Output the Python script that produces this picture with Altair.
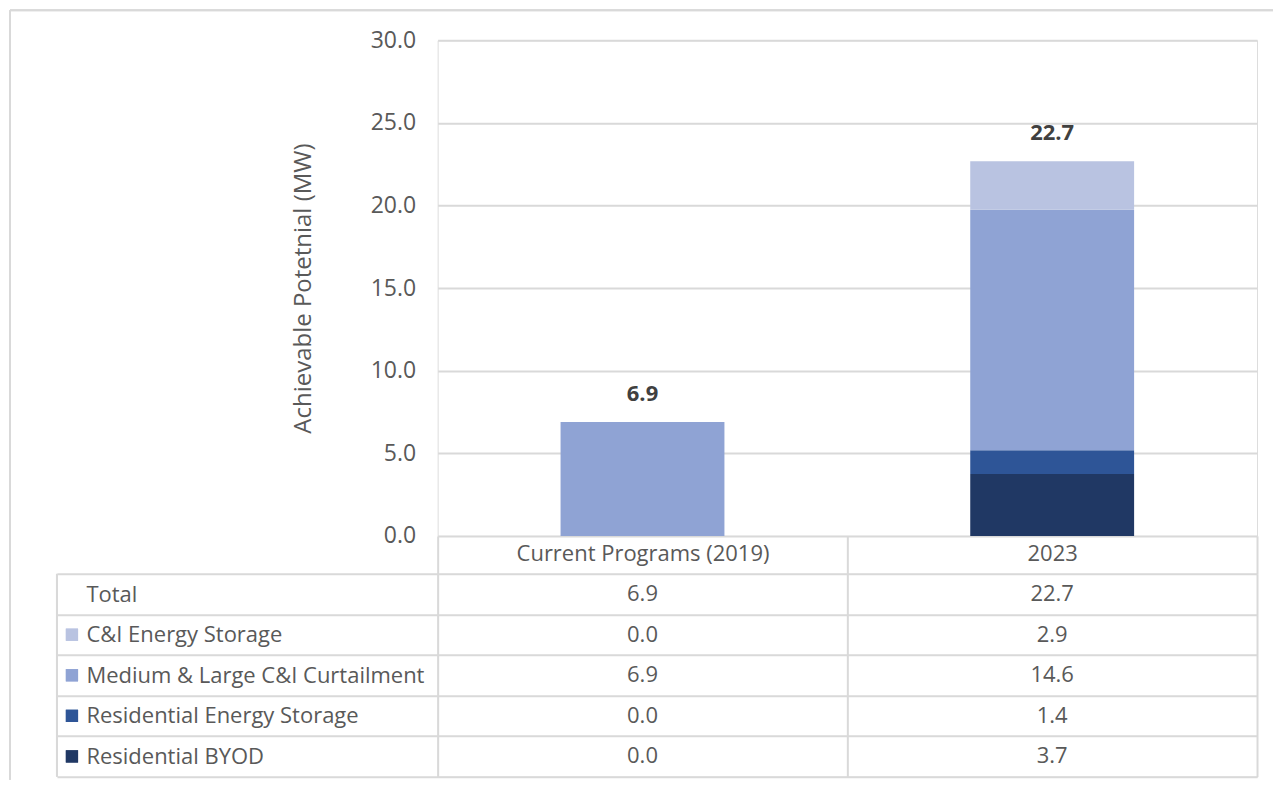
import altair as alt
import pandas as pd

# ---- data ----
categories = ["Current Programs (2019)", "2023"]
series = ["Residential BYOD", "Residential Energy Storage",
          "Medium & Large C&I Curtailment", "C&I Energy Storage"]
values_current = [0.0, 0.0, 6.9, 0.0]
values_2023 = [3.74, 1.44, 14.56, 2.94]
table_rows = ["Total", "C&I Energy Storage", "Medium & Large C&I Curtailment",
              "Residential Energy Storage", "Residential BYOD"]
colors = ["#203864", "#2E5597", "#8FA3D4", "#B9C3E1"]
y_ticks = [0, 5, 10, 15, 20, 25, 30]

FONT = "Open Sans"
GRID = "#D9D9D9"
TXT = "#595959"
BOLD = "#404040"
AX = "#595959"

rows = []
for cat, vals in zip(categories, [values_current, values_2023]):
    for i, (s, v) in enumerate(zip(series, vals)):
        rows.append({"category": cat, "series": s, "value": v, "order": i})
df = pd.DataFrame(rows)

totals = pd.DataFrame({
    "category": categories,
    "total": [sum(values_current), sum(values_2023)],
})

table = []
for cat, vals in zip(categories, [values_current, values_2023]):
    table.append({"row": "Total", "category": cat, "value": sum(vals)})
    for s, v in zip(series, vals):
        table.append({"row": s, "category": cat, "value": v})
tdf = pd.DataFrame(table)

color_scale = alt.Scale(domain=series, range=colors)
x_scale = alt.Scale(domain=categories, paddingInner=0, paddingOuter=0)

W, H = 820, 496
TH = 203

# ---- top chart ----
bars = alt.Chart(df).mark_bar(width=alt.RelativeBandSize(0.4)).encode(
    x=alt.X("category:N", scale=x_scale, sort=categories,
            axis=alt.Axis(title=None, domain=False, grid=False,
                          tickBand="extent", tickSize=38, tickColor=GRID,
                          tickWidth=2, labelPadding=-30, labelFontSize=22,
                          labelColor=TXT, labelFont=FONT, labelAngle=0,
                          labelLimit=0)),
    y=alt.Y("value:Q", stack="zero",
            scale=alt.Scale(domain=[0, 30], nice=False),
            axis=alt.Axis(title="Achievable Potetnial (MW)", values=y_ticks,
                          format=".1f", domain=False, ticks=False,
                          labelPadding=22, labelFontSize=23, labelColor=AX,
                          labelFont=FONT, gridColor=GRID, gridWidth=2,
                          titleFontSize=24, titleColor=AX, titleFont=FONT,
                          titleFontWeight="normal", titlePadding=55)),
    color=alt.Color("series:N", scale=color_scale, legend=None),
    order=alt.Order("order:Q", sort="ascending"),
)

labels = alt.Chart(totals).mark_text(
    fontWeight="bold", fontSize=22, color=BOLD, font=FONT,
    baseline="alphabetic", dy=-21
).encode(
    x=alt.X("category:N", scale=x_scale, sort=categories),
    y=alt.Y("total:Q"),
    text=alt.Text("total:Q", format=".1f"),
)

border_top = alt.Chart(totals).mark_rule(color=GRID, strokeWidth=2).encode(
    x=alt.value(-428), x2=alt.value(836), y=alt.value(-30))
border_left = alt.Chart(totals).mark_rule(color=GRID, strokeWidth=2).encode(
    x=alt.value(-428), y=alt.value(-30), y2=alt.value(740))

top = alt.layer(bars, labels, border_top, border_left).properties(width=W, height=H)

# ---- table chart ----
tx_scale = alt.Scale(domain=categories, paddingInner=0, paddingOuter=0)
ty_scale = alt.Scale(domain=table_rows, paddingInner=0, paddingOuter=0)

cells = alt.Chart(tdf).mark_text(fontSize=22, color=TXT, font=FONT).encode(
    x=alt.X("category:N", scale=tx_scale, sort=categories,
            axis=alt.Axis(title=None, labels=False, ticks=False, domain=False,
                          grid=True, tickBand="extent", gridColor=GRID,
                          gridWidth=2)),
    y=alt.Y("row:N", scale=ty_scale, sort=table_rows,
            axis=alt.Axis(title=None, domain=False, grid=True,
                          tickBand="extent", gridColor=GRID, gridWidth=2,
                          tickSize=381, tickColor=GRID, tickWidth=2,
                          labelAlign="left", labelPadding=-29, labelLimit=0,
                          labelFontSize=22, labelColor=TXT, labelFont=FONT)),
    text=alt.Text("value:Q", format=".1f"),
)

squares = alt.Chart(tdf).transform_filter(
    alt.datum.row != "Total"
).mark_square(size=150, opacity=1).encode(
    x=alt.value(-366),
    y=alt.Y("row:N", scale=ty_scale, sort=table_rows),
    color=alt.Color("row:N", scale=color_scale, legend=None),
)

table_left = alt.Chart(totals).mark_rule(color=GRID, strokeWidth=2).encode(
    x=alt.value(-381), y=alt.value(0), y2=alt.value(TH))

tbl = alt.layer(cells, squares, table_left).properties(width=W, height=TH)

chart = alt.vconcat(top, tbl, spacing=38).properties(
    padding=0, bounds="flush"
).configure_view(stroke=None).configure(font=FONT)

chart.save("out.html", embed_options={"renderer": "svg", "actions": False})
